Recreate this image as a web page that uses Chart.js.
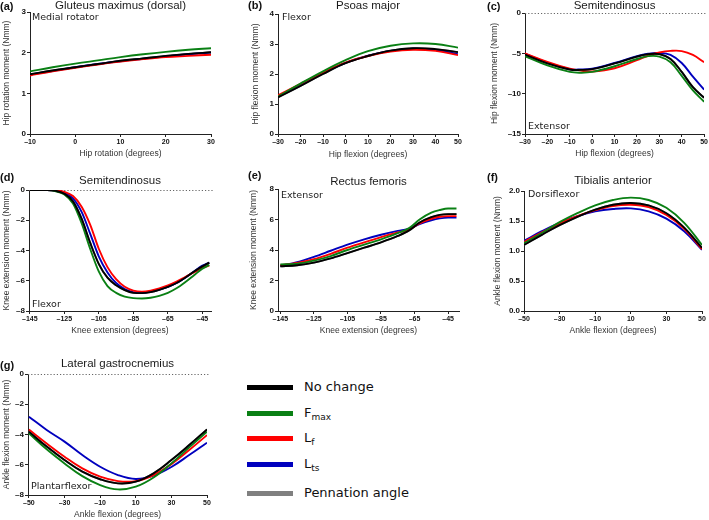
<!DOCTYPE html>
<html><head><meta charset="utf-8">
<script src="https://cdn.jsdelivr.net/npm/chart.js@4.4.0/dist/chart.umd.min.js"></script>
<style>
body{margin:0;background:#fff;width:709px;height:520px;position:relative;overflow:hidden;font-family:"Liberation Sans",Arial,sans-serif}
.pane{position:absolute}
.plabel{position:absolute;font:bold 11px "Liberation Sans",Arial,sans-serif;color:#111;line-height:12px;white-space:nowrap}
.sw{position:absolute;left:247px;width:46px;height:5px}
.lt{position:absolute;left:304px;font-family:"DejaVu Sans",sans-serif;font-size:13px;line-height:16px;color:#111;white-space:nowrap}
.lt sub{font-size:9px;line-height:0;vertical-align:-3px}
</style></head><body>
<script>
// ---------- DATA ----------
const seriesNames = ["No change", "Fmax", "Lf", "Lts", "Pennation angle"];
// (a) Gluteus maximus (dorsal)
const a_x    = [-10, -5, 0, 5, 10, 15, 20, 25, 30];
const a_none = [1.47, 1.56, 1.64, 1.72, 1.80, 1.86, 1.92, 1.97, 2.01];
const a_fmax = [1.54, 1.64, 1.73, 1.81, 1.89, 1.96, 2.02, 2.07, 2.11];
const a_lf   = [1.44, 1.54, 1.63, 1.71, 1.78, 1.84, 1.89, 1.92, 1.95];
const a_lts  = [1.46, 1.55, 1.64, 1.72, 1.79, 1.85, 1.91, 1.96, 2.00];
const a_pen  = [1.47, 1.56, 1.64, 1.72, 1.80, 1.86, 1.92, 1.97, 2.01];
const a_xt = [-10, 0, 10, 20, 30];
const a_yt = [0, 1, 2, 3];
// (b) Psoas major
const b_x    = [-30, -20, -10, 0, 10, 20, 30, 40, 50];
const b_none = [1.22, 1.60, 2.00, 2.36, 2.60, 2.78, 2.86, 2.83, 2.73];
const b_fmax = [1.25, 1.68, 2.09, 2.46, 2.76, 2.94, 3.02, 3.00, 2.88];
const b_lf   = [1.29, 1.67, 2.05, 2.38, 2.60, 2.75, 2.81, 2.77, 2.63];
const b_lts  = [1.25, 1.64, 2.03, 2.37, 2.61, 2.77, 2.84, 2.80, 2.66];
const b_pen  = [1.22, 1.60, 2.00, 2.36, 2.60, 2.78, 2.86, 2.83, 2.73];
const b_xt = [-30, -20, -10, 0, 10, 20, 30, 40, 50];
const b_yt = [0, 1, 2, 3, 4];
// (c) Semitendinosus (hip)
const c_x    = [-30, -20, -10, -5, 0, 10, 20, 25, 30, 35, 40, 45, 50];
const c_none = [-5.15, -6.25, -7.0, -7.05, -6.95, -6.25, -5.4, -5.1, -5.1, -5.7, -7.3, -9.2, -10.5];
const c_fmax = [-5.35, -6.5, -7.3, -7.4, -7.3, -6.6, -5.7, -5.35, -5.4, -6.1, -7.8, -9.6, -11.0];
const c_lf   = [-5.0, -6.05, -6.9, -7.15, -7.25, -6.85, -5.85, -5.3, -4.9, -4.7, -4.72, -5.2, -6.1];
const c_lts  = [-5.05, -6.15, -6.95, -7.0, -6.9, -6.2, -5.35, -5.05, -4.95, -5.2, -6.2, -7.9, -9.5];
const c_pen  = [-5.15, -6.25, -7.0, -7.05, -6.95, -6.25, -5.4, -5.1, -5.1, -5.7, -7.3, -9.2, -10.5];
const c_xt = [-30, -20, -10, 0, 10, 20, 30, 40, 50];
const c_yt = [-15, -10, -5, 0];
// (d) Semitendinosus (knee)
const d_x    = [-145, -135, -130, -125, -120, -115, -110, -105, -100, -95, -90, -85, -80, -75, -70, -65, -60, -55, -50, -45, -41];
const d_none = [0, -0.01, -0.06, -0.25, -0.75, -1.9, -3.5, -4.9, -5.8, -6.3, -6.62, -6.8, -6.82, -6.75, -6.6, -6.4, -6.15, -5.8, -5.4, -5.05, -4.8];
const d_fmax = [0, -0.01, -0.08, -0.3, -0.9, -2.2, -3.9, -5.4, -6.35, -6.8, -7.05, -7.15, -7.17, -7.12, -7.0, -6.8, -6.5, -6.1, -5.65, -5.2, -4.95];
const d_lf   = [0, 0, -0.02, -0.12, -0.4, -1.1, -2.3, -3.9, -5.1, -5.9, -6.4, -6.65, -6.72, -6.65, -6.5, -6.3, -6.05, -5.75, -5.45, -5.15, -5.0];
const d_lts  = [0, 0, -0.03, -0.17, -0.55, -1.45, -2.9, -4.4, -5.45, -6.15, -6.55, -6.75, -6.8, -6.72, -6.58, -6.4, -6.15, -5.8, -5.4, -5.0, -4.8];
const d_pen  = [0, -0.01, -0.06, -0.25, -0.75, -1.9, -3.5, -4.9, -5.8, -6.3, -6.62, -6.8, -6.82, -6.75, -6.6, -6.4, -6.15, -5.8, -5.4, -5.05, -4.8];
const d_xt = [-145, -125, -105, -85, -65, -45];
const d_yt = [-8, -6, -4, -2, 0];
// (e) Rectus femoris
const e_x    = [-145, -135, -125, -115, -105, -95, -85, -75, -68, -62, -55, -50, -45, -40];
const e_none = [2.93, 3.0, 3.17, 3.45, 3.8, 4.15, 4.5, 4.92, 5.3, 5.8, 6.15, 6.3, 6.35, 6.35];
const e_fmax = [3.05, 3.1, 3.3, 3.6, 4.0, 4.35, 4.7, 5.1, 5.45, 6.0, 6.45, 6.62, 6.72, 6.72];
const e_lf   = [3.0, 3.15, 3.4, 3.75, 4.15, 4.5, 4.85, 5.15, 5.35, 5.75, 6.05, 6.18, 6.22, 6.22];
const e_lts  = [2.95, 3.2, 3.55, 3.95, 4.35, 4.7, 5.0, 5.25, 5.4, 5.7, 5.95, 6.07, 6.12, 6.12];
const e_pen  = [2.93, 3.0, 3.17, 3.45, 3.8, 4.15, 4.5, 4.92, 5.3, 5.8, 6.15, 6.3, 6.35, 6.35];
const e_xt = [-145, -125, -105, -85, -65, -45];
const e_yt = [0, 2, 4, 6, 8];
// (f) Tibialis anterior
const f_x    = [-50, -40, -30, -20, -10, 0, 10, 20, 30, 40, 50];
const f_none = [1.10, 1.27, 1.43, 1.57, 1.69, 1.77, 1.80, 1.76, 1.63, 1.39, 1.05];
const f_fmax = [1.13, 1.30, 1.48, 1.63, 1.76, 1.85, 1.89, 1.85, 1.72, 1.47, 1.10];
const f_lf   = [1.15, 1.31, 1.46, 1.58, 1.68, 1.75, 1.77, 1.73, 1.60, 1.37, 1.03];
const f_lts  = [1.17, 1.33, 1.47, 1.58, 1.66, 1.70, 1.71, 1.66, 1.54, 1.33, 1.02];
const f_pen  = [1.10, 1.27, 1.43, 1.57, 1.69, 1.77, 1.80, 1.76, 1.63, 1.39, 1.05];
const f_xt = [-50, -30, -10, 10, 30, 50];
const f_yt = [0, 0.5, 1.0, 1.5, 2.0];
// (g) Lateral gastrocnemius
const g_x    = [-50, -40, -30, -20, -10, 0, 10, 20, 30, 40, 50];
const g_none = [-3.81, -4.8, -5.69, -6.46, -6.96, -7.23, -7.12, -6.57, -5.69, -4.7, -3.66];
const g_fmax = [-3.92, -4.98, -5.91, -6.75, -7.34, -7.63, -7.45, -6.84, -5.91, -4.85, -3.81];
const g_lf   = [-3.67, -4.59, -5.47, -6.24, -6.79, -7.08, -7.08, -6.68, -5.96, -5.03, -4.04];
const g_lts  = [-2.82, -3.7, -4.47, -5.36, -6.13, -6.68, -6.94, -6.72, -6.15, -5.36, -4.54];
const g_pen  = [-3.81, -4.8, -5.69, -6.46, -6.96, -7.23, -7.12, -6.57, -5.69, -4.7, -3.66];
const g_xt = [-50, -30, -10, 10, 30, 50];
const g_yt = [-8, -6, -4, -2, 0];

// ---------- STYLE ----------
const COLORS = {none: "#000000", fmax: "rgb(10,128,20)", lf: "rgb(255,0,0)", lts: "rgb(0,0,190)", pen: "rgb(128,128,128)"};
const FAM = '"Liberation Sans", Arial, sans-serif';
Chart.defaults.font.family = FAM;

const zeroLine = {
  id: 'zeroLine',
  beforeDatasetsDraw(chart, args, opts) {
    if (!opts || !opts.show) return;
    const {ctx, chartArea, scales} = chart;
    const y = Math.round(scales.y.getPixelForValue(0)) + 0.5;
    ctx.save();
    ctx.strokeStyle = '#666'; ctx.lineWidth = 1; ctx.setLineDash([1.2, 2]);
    ctx.beginPath(); ctx.moveTo(chartArea.left, y); ctx.lineTo(chartArea.right + 2, y); ctx.stroke();
    ctx.restore();
  }
};
const annot = {
  id: 'annot',
  afterDatasetsDraw(chart, args, o) {
    if (!o || !o.text) return;
    const {ctx, chartArea} = chart;
    ctx.save();
    ctx.font = '9.5px "DejaVu Sans", sans-serif';
    ctx.fillStyle = '#222'; ctx.textBaseline = 'middle'; ctx.textAlign = 'left';
    const y = o.pos === 'top' ? chartArea.top + o.dy : chartArea.bottom - o.dy;
    ctx.fillText(o.text, chartArea.left + o.dx, y);
    ctx.restore();
  }
};

function fmt(v, dec) {
  const s = dec ? Number(v).toFixed(dec) : String(v);
  return s.replace('-', '\u2013');
}

function panel(p) {
  const div = document.createElement('div');
  div.className = 'pane';
  Object.assign(div.style, {left: p.rect[0] + 'px', top: p.rect[1] + 'px', width: p.rect[2] + 'px', height: p.rect[3] + 'px'});
  const cv = document.createElement('canvas');
  cv.width = p.rect[2]; cv.height = p.rect[3];
  cv.style.width = p.rect[2] + 'px'; cv.style.height = p.rect[3] + 'px';
  div.appendChild(cv);
  document.body.appendChild(div);
  const order = [['none', p.s[0]], ['fmax', p.s[1]], ['lf', p.s[2]], ['lts', p.s[3]], ['pen', p.s[4]]];
  const names = {none: seriesNames[0], fmax: seriesNames[1], lf: seriesNames[2], lts: seriesNames[3], pen: seriesNames[4]};
  const datasets = order.map(([k, arr]) => ({
    label: names[k],
    data: p.x.map((xv, i) => ({x: xv, y: arr[i]})),
    borderColor: COLORS[k], backgroundColor: COLORS[k],
    borderWidth: 1.9, pointRadius: 0, fill: false,
    cubicInterpolationMode: p.mono ? 'monotone' : 'default', tension: 0.4
  }));
  const axisCommon = (ticksArr, dec, fontSize) => ({
    type: 'linear',
    afterBuildTicks: s => { s.ticks = ticksArr.map(v => ({value: v})); },
    ticks: {autoSkip: false, maxRotation: 0, padding: 1, color: '#111',
      font: {size: fontSize, weight: 'bold', family: FAM},
      callback: v => fmt(v, dec)},
    grid: {drawOnChartArea: false, drawTicks: true, tickLength: 3, tickColor: '#222', tickWidth: 1},
    border: {display: true, color: '#222', width: 1}
  });
  const xs = axisCommon(p.xt, 0, 7);
  Object.assign(xs, {min: p.xr[0], max: p.xr[1],
    title: {display: true, text: p.xtitle, color: '#333', font: {size: 8.5, family: FAM}, padding: {top: 0, bottom: p.xtpb}},
    afterFit: s => { s.height = p.xh; }});
  const ys = axisCommon(p.yt, p.ydec || 0, 8);
  Object.assign(ys, {min: p.yr[0], max: p.yr[1],
    title: {display: true, text: p.ytitle, color: '#333', font: {size: 8.5, family: FAM}, padding: {top: p.ytpt, bottom: 0}},
    afterFit: s => { s.width = p.yw; }});
  new Chart(cv, {
    type: 'line',
    data: {datasets},
    options: {
      responsive: false, animation: false,
      layout: {padding: {top: 0, left: 0, bottom: 0, right: p.padR}},
      scales: {x: xs, y: ys},
      plugins: {
        legend: {display: false}, tooltip: {enabled: false},
        title: {display: true, text: p.title, fullSize: false, color: '#1a1a1a',
          font: {size: 11.5, weight: 'normal', family: FAM, lineHeight: '12px'},
          padding: {top: p.tpt, bottom: p.tpb}},
        zeroLine: {show: !!p.zero},
        annot: p.ann
      }
    },
    plugins: [zeroLine, annot]
  });
}

panel({rect: [0, 0, 235, 163], x: a_x, s: [a_none, a_fmax, a_lf, a_lts, a_pen], xt: a_xt, yt: a_yt,
  xr: [-10, 30], yr: [0, 3], yw: 30, padR: 24, tpt: 0, tpb: 0, xh: 29, xtpb: 3.9, ytpt: 1.9,
  title: 'Gluteus maximus (dorsal)', xtitle: 'Hip rotation (degrees)', ytitle: 'Hip rotation moment (Nmm)',
  ann: {text: 'Medial rotator', pos: 'top', dx: 2, dy: 6}});
panel({rect: [240, 0, 230, 163], x: b_x, s: [b_none, b_fmax, b_lf, b_lts, b_pen], xt: b_xt, yt: b_yt,
  xr: [-30, 50], yr: [0, 4], yw: 38, padR: 12, tpt: 0, tpb: 2, xh: 29, xtpb: 2.9, ytpt: 10.9,
  title: 'Psoas major', xtitle: 'Hip flexion (degrees)', ytitle: 'Hip flexion moment (Nmm)',
  ann: {text: 'Flexor', pos: 'top', dx: 4, dy: 4}});
panel({rect: [472, 0, 237, 163], x: c_x, s: [c_none, c_fmax, c_lf, c_lts, c_pen], xt: c_xt, yt: c_yt,
  xr: [-30, 50], yr: [-15, 0], yw: 53, padR: 4, tpt: 0, tpb: 1, xh: 29, xtpb: 3.9, ytpt: 17.9, zero: true,
  title: 'Semitendinosus', xtitle: 'Hip flexion (degrees)', ytitle: 'Hip flexion moment (Nmm)',
  ann: {text: 'Extensor', pos: 'bottom', dx: 3, dy: 7}});
panel({rect: [0, 170, 235, 170], x: d_x, s: [d_none, d_fmax, d_lf, d_lts, d_pen], xt: d_xt, yt: d_yt, mono: true,
  xr: [-145.5, -40], yr: [-8, 0], yw: 29, padR: 24, tpt: 5, tpb: 3, xh: 29, xtpb: 3.9, ytpt: 1.6, zero: true,
  title: 'Semitendinosus', xtitle: 'Knee extension (degrees)', ytitle: 'Knee extension moment (Nmm)',
  ann: {text: 'Flexor', pos: 'bottom', dx: 3, dy: 6}});
panel({rect: [240, 170, 230, 170], x: e_x, s: [e_none, e_fmax, e_lf, e_lts, e_pen], xt: e_xt, yt: e_yt, mono: true,
  xr: [-146.4, -38.5], yr: [0, 8], yw: 38, padR: 11, tpt: 6, tpb: 1, xh: 29, xtpb: 3.9, ytpt: 8.9,
  title: 'Rectus femoris', xtitle: 'Knee extension (degrees)', ytitle: 'Knee extension moment (Nmm)',
  ann: {text: 'Extensor', pos: 'top', dx: 3, dy: 7}});
panel({rect: [472, 170, 237, 170], x: f_x, s: [f_none, f_fmax, f_lf, f_lts, f_pen], xt: f_xt, yt: f_yt, ydec: 1,
  xr: [-50, 50], yr: [0, 2], yw: 52, padR: 7, tpt: 5, tpb: 4, xh: 29, xtpb: 3.9, ytpt: 20.9,
  title: 'Tibialis anterior', xtitle: 'Ankle flexion (degrees)', ytitle: 'Ankle flexion moment (Nmm)',
  ann: {text: 'Dorsiflexor', pos: 'top', dx: 4, dy: 4}});
panel({rect: [0, 340, 235, 180], x: g_x, s: [g_none, g_fmax, g_lf, g_lts, g_pen], xt: g_xt, yt: g_yt,
  xr: [-50.5, 50], yr: [-8, 0], yw: 28, padR: 28, tpt: 18, tpb: 4, xh: 25, xtpb: 0, ytpt: 1.4, zero: true,
  title: 'Lateral gastrocnemius', xtitle: 'Ankle flexion (degrees)', ytitle: 'Ankle flexion moment (Nmm)',
  ann: {text: 'Plantarflexor', pos: 'bottom', dx: 3, dy: 8}});

// panel letters
[['(a)', 0, 0], ['(b)', 248, -1], ['(c)', 487, 0], ['(d)', 0, 171], ['(e)', 248, 169], ['(f)', 487, 171], ['(g)', 0, 359]]
  .forEach(([t, x, y]) => {
    const d = document.createElement('div'); d.className = 'plabel'; d.textContent = t;
    d.style.left = x + 'px'; d.style.top = y + 'px'; document.body.appendChild(d);
  });

// legend
const legendRows = [
  {k: 'none', html: 'No change', cy: 387},
  {k: 'fmax', html: 'F<sub>max</sub>', cy: 413},
  {k: 'lf', html: 'L<sub>f</sub>', cy: 438},
  {k: 'lts', html: 'L<sub>ts</sub>', cy: 464},
  {k: 'pen', html: 'Pennation angle', cy: 493}
];
legendRows.forEach(r => {
  const s = document.createElement('div'); s.className = 'sw';
  s.style.top = (r.cy - 2.5) + 'px'; s.style.background = COLORS[r.k];
  document.body.appendChild(s);
  const t = document.createElement('div'); t.className = 'lt';
  t.style.top = (r.cy - 8) + 'px'; t.innerHTML = r.html;
  document.body.appendChild(t);
});
</script>
</body></html>
